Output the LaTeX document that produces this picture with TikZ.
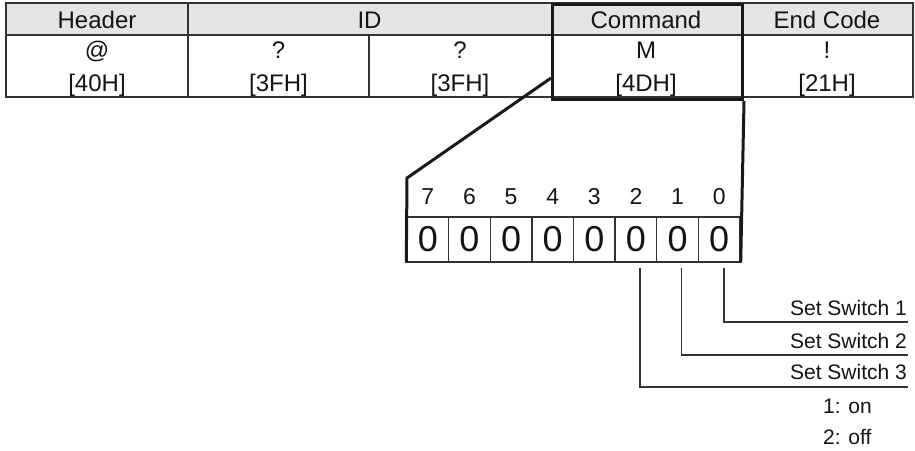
\documentclass[tikz,border=0pt]{standalone}
\usepackage{fontspec}
\setmainfont{Liberation Sans}
\begin{document}
\begin{tikzpicture}[x=1pt,y=-1pt,
  gridline/.style={draw=black!80, line width=1.4pt},
  boldline/.style={draw=black!90, line width=3pt},
  tabtxt/.style={font=\fontsize{24}{26}\selectfont, text=black!92, inner sep=0pt, anchor=base},
  bittxt/.style={font=\fontsize{23}{26}\selectfont, text=black!92, inner sep=0pt, anchor=base},
  celltxt/.style={font=\fontsize{36}{38}\selectfont, text=black!92, inner sep=0pt, anchor=base},
  labtxt/.style={font=\fontsize{21}{23}\selectfont, text=black!92, inner sep=0pt},
  leader/.style={draw=black!80, line width=1.4pt},
  bitcell/.style={draw=black!80, line width=1.4pt, minimum width=41.625pt, minimum height=45pt, inner sep=0pt}]
\useasboundingbox (0,0) rectangle (915,450);
% table background and grid
\fill[black!10] (6,3) rectangle (913,35);
\draw[gridline] (6,3) rectangle (913,97);
\draw[gridline] (6,35) -- (913,35);
\draw[gridline] (188,3) -- (188,97);
\draw[gridline] (369,35) -- (369,97);
% header texts
\node[tabtxt] (hHeader) at (97,28) {Header};
\node[tabtxt] (hID) at (369.5,28) {ID};
\node[tabtxt] (hCmd) at (646,28) {Command};
\node[tabtxt] (hEnd) at (827,28) {End Code};
% data
\node[tabtxt] (d1a) at (97,58) {@};
\node[tabtxt] (d1b) at (97,91) {[40H]};
\node[tabtxt] (d2a) at (278.5,58) {?};
\node[tabtxt] (d2b) at (278.5,91) {[3FH]};
\node[tabtxt] (d3a) at (460,58) {?};
\node[tabtxt] (d3b) at (460,91) {[3FH]};
\node[tabtxt] (d4a) at (646,58) {M};
\node[tabtxt] (d4b) at (646,91) {[4DH]};
\node[tabtxt] (d5a) at (827,58) {!};
\node[tabtxt] (d5b) at (827,91) {[21H]};
% command box
\node[draw=black!90, line width=3pt, minimum width=190pt, minimum height=95pt, inner sep=0pt, anchor=north west] (cmd) at (551,3) {};
% bit cells
\foreach \b [count=\i from 0] in {7,6,5,4,3,2,1,0} {
  \node[bitcell] (c\b) at ({407+41.625*(\i+0.5)},239.5) {};
  \node[celltxt] (z\b) at ({407+41.625*(\i+0.5)},251) {0};
  \node[bittxt] (n\b) at ({407+41.625*(\i+0.5)},204) {\b};
}
\coordinate (regTL) at (407,178);
\coordinate (cmdL) at (551,78);
% zoom outline
\draw[boldline] (cmdL) -- (regTL) -- (c7.south west);
\draw[boldline] (cmd.south east) -- (c0.south east);
% leaders
\coordinate (e0) at (908,322);
\coordinate (e1) at (908,355);
\coordinate (e2) at (908,387);
\draw[leader] ([xshift=5pt,yshift=-5pt]c0.south) |- (e0);
\draw[leader] ([xshift=4pt,yshift=-5pt]c1.south) |- (e1);
\draw[leader] ([xshift=4pt,yshift=-5pt]c2.south) |- (e2);
\node[labtxt, anchor=base east] (s1) at (907,315) {Set Switch 1};
\node[labtxt, anchor=base east] (s2) at (907,348) {Set Switch 2};
\node[labtxt, anchor=base east] (s3) at (907,379) {Set Switch 3};
\node[labtxt, anchor=base west] (on) at (823,413) {1: on};
\node[labtxt, anchor=base west] (off) at (823,444) {2: off};
\end{tikzpicture}
\end{document}
